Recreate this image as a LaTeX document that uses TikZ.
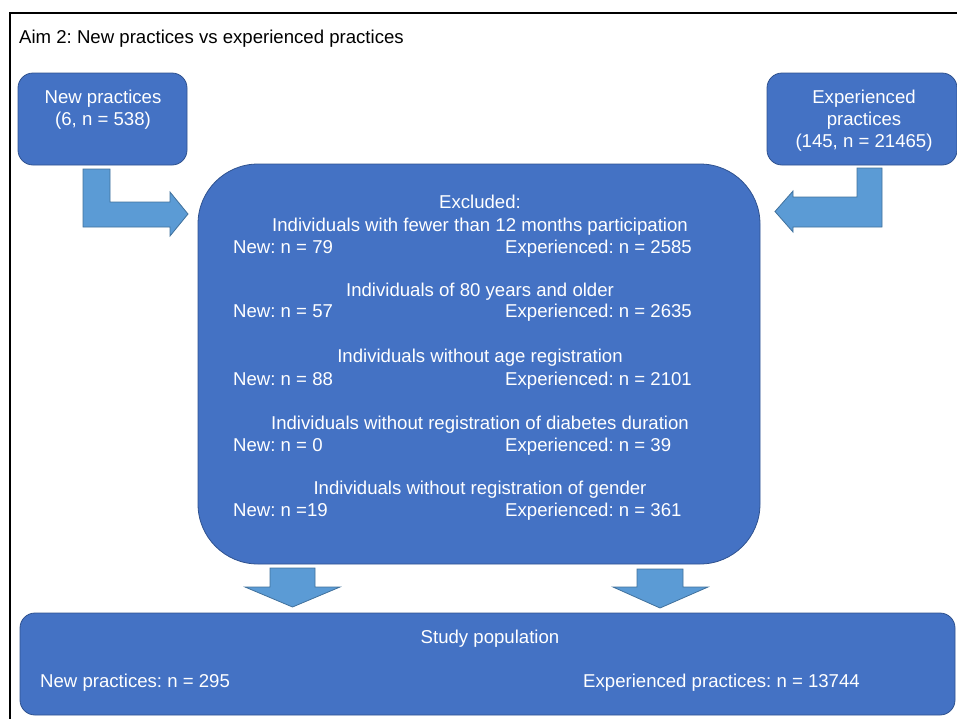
\documentclass[tikz,border=0pt]{standalone}
\usepackage{fontspec}
\setmainfont{Liberation Sans}
\frenchspacing
\definecolor{boxblue}{HTML}{4472C4}
\definecolor{boxline}{HTML}{2F528F}
\definecolor{arrowblue}{HTML}{5B9BD5}
\definecolor{arrowline}{HTML}{41719C}
\newcommand{\boxfont}{\fontsize{18.6}{22}\selectfont}
\tikzset{
  bluebox/.style={draw=boxline, fill=boxblue, line width=0.8pt, inner sep=0pt},
  blockarrow/.style={draw=arrowline, fill=arrowblue, line width=0.8pt, line join=miter},
  wtext/.style={text=white, inner sep=0pt, font=\boxfont},
}

\begin{document}
\begin{tikzpicture}[x=1pt,y=-1pt]
        \useasboundingbox (0,0) rectangle (957,718);
        % frame and title
        \draw[line width=1.5pt] (10,13) rectangle (980,740);
        \node[anchor=base west, inner sep=0pt, font=\boxfont] (title) at (19,43) {Aim 2: New practices vs experienced practices};

        % top boxes
        \node[bluebox, rounded corners=15pt, minimum width=169pt, minimum height=92pt] (newbox) at (102.5,119) {};
        \node[wtext, anchor=base] (newa) at (103,103) {New practices};
        \node[wtext, anchor=base] (newb) at (103,125) {(6, n = 538)};
        \node[bluebox, rounded corners=15pt, minimum width=190pt, minimum height=92pt] (expbox) at (862,119) {};
        \node[wtext, anchor=base] (expa) at (864,103) {Experienced};
        \node[wtext, anchor=base] (expb) at (864,125) {practices};
        \node[wtext, anchor=base] (expc) at (864,147) {(145, n = 21465)};

        % bent arrows into the excluded box
        \draw[blockarrow] (83,169) -- (110,169) -- (110,202) -- (170,202) -- (170,192) -- (188,214) -- (170,236) -- (170,227) -- (83,227) -- cycle;
        \draw[blockarrow] (882,168) -- (857,168) -- (857,197) -- (793,197) -- (793,191) -- (775,211.5) -- (793,232) -- (793,227) -- (882,227) -- cycle;

        % excluded box
        \node[bluebox, rounded corners=60pt, minimum width=562pt, minimum height=400pt] (excl) at (479,364) {};
        \node[wtext, anchor=base] (exhead) at (480,208) {Excluded:};
        \node[wtext, anchor=base] (h1) at (480,231) {Individuals with fewer than 12 months participation};
        \node[wtext, anchor=base west] (n1) at (233,253) {New: n = 79};
        \node[wtext, anchor=base west] (e1) at (505,253) {Experienced: n = 2585};
        \node[wtext, anchor=base] (h2) at (480,296) {Individuals of 80 years and older};
        \node[wtext, anchor=base west] (n2) at (233,317) {New: n = 57};
        \node[wtext, anchor=base west] (e2) at (505,317) {Experienced: n = 2635};
        \node[wtext, anchor=base] (h3) at (480,362) {Individuals without age registration};
        \node[wtext, anchor=base west] (n3) at (233,385) {New: n = 88};
        \node[wtext, anchor=base west] (e3) at (505,385) {Experienced: n = 2101};
        \node[wtext, anchor=base] (h4) at (480,429) {Individuals without registration of diabetes duration};
        \node[wtext, anchor=base west] (n4) at (233,451) {New: n = 0};
        \node[wtext, anchor=base west] (e4) at (505,451) {Experienced: n = 39};
        \node[wtext, anchor=base] (h5) at (480,494) {Individuals without registration of gender};
        \node[wtext, anchor=base west] (n5) at (233,516) {New: n =19};
        \node[wtext, anchor=base west] (e5) at (505,516) {Experienced: n = 361};

        % down arrows
        \draw[blockarrow] (270,568) -- (315,568) -- (315,587) -- (340,587) -- (292.5,607) -- (245,587) -- (270,587) -- cycle;
        \draw[blockarrow] (637,569) -- (683,569) -- (683,587) -- (708,587) -- (660,608) -- (613,587) -- (637,587) -- cycle;

        % study population
        \node[bluebox, rounded corners=15pt, minimum width=935pt, minimum height=102pt] (study) at (487.5,664) {};
        \node[wtext, anchor=base] (sp) at (490,643) {Study population};
        \node[wtext, anchor=base west] (snew) at (40,687) {New practices: n = 295};
        \node[wtext, anchor=base west] (sexp) at (583,687) {Experienced practices: n = 13744};
    \end{tikzpicture}
\end{document}
